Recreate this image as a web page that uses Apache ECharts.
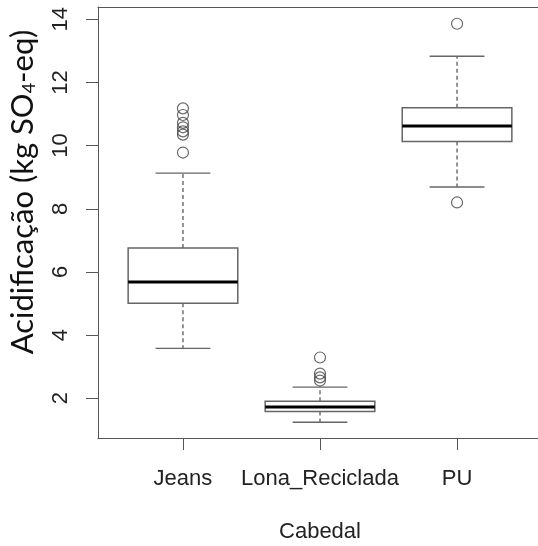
<!DOCTYPE html>
<html>
<head>
	<meta charset="utf-8">
	<title>Acidificação por cabedal</title>
	<script src="https://cdn.jsdelivr.net/npm/echarts@6/dist/echarts.min.js"></script>
	<style type="text/css">
		html, body { margin: 0; padding: 0; background: #fff; }
		#chart { width: 538px; height: 546px; }
	</style>
</head>
<body>
	<div id="chart"></div>
<script type="text/javascript">
	// categorias e estatisticas: [min, Q1, mediana, Q3, max]
	var categorias = ['Jeans', 'Lona_Reciclada', 'PU'];
	var jeans = [3.58, 5.01, 5.68, 6.76, 9.13];
	var lona = [1.24, 1.58, 1.72, 1.90, 2.35];
	var pu = [8.69, 10.13, 10.62, 11.20, 12.83];
	// outliers
	var outJeans = [9.78, 10.35, 10.45, 10.58, 10.72, 10.97, 11.18];
	var outLona = [2.56, 2.66, 2.78, 3.29];
	var outPu = [8.2, 13.86];
	var yTicks = [2, 4, 6, 8, 10, 12, 14];

	var caixas = [jeans, lona, pu].map(function (s, i) {
		return [i + 1].concat(s);
	});
	var pontos = [];
	[outJeans, outLona, outPu].forEach(function (arr, i) {
		arr.forEach(function (v) { pontos.push([i + 1, v]); });
	});

	var chart = echarts.init(document.getElementById('chart'));

	var cor = '#555';
	var option = {
		backgroundColor: '#fff',
		animation: false,
		// a caixa do R continua um pouco alem da borda direita (corte da imagem)
		grid: { left: 98, top: 7, width: 444, height: 431, outerBoundsMode: 'none', containLabel: false },
		graphic: [{
			type: 'text',
			x: 23, y: 192,
			rotation: Math.PI / 2,
			style: {
				text: '{t|Acidificação (kg SO}{s|4}{t|-eq)}',
				align: 'center', verticalAlign: 'middle',
				rich: {
					t: { fontFamily: 'Lato', fontSize: 31, fill: '#111' },
					s: { fontFamily: 'Lato', fontSize: 18, fill: '#111', verticalAlign: 'bottom', padding: [13, 0, 0, 0] }
				}
			}
		}],
		xAxis: [{
			type: 'value',
			min: 0.38, max: 3.62,
			name: 'Cabedal',
			nameLocation: 'middle',
			nameGap: 83,
			nameTextStyle: { fontFamily: 'Liberation Sans', fontSize: 22, color: '#222' },
			splitLine: { show: false },
			axisLine: { show: true, lineStyle: { color: cor } },
			axisTick: { show: true, length: 12, customValues: [1, 2, 3], lineStyle: { color: cor } },
			axisLabel: {
				customValues: [1, 2, 3],
				margin: 30,
				fontFamily: 'Liberation Sans', fontSize: 22, color: '#222',
				formatter: function (v) { return categorias[Math.round(v) - 1]; }
			}
		}, {
			type: 'value',
			position: 'top',
			min: 0.38, max: 3.62,
			splitLine: { show: false },
			axisLine: { show: true, lineStyle: { color: cor } },
			axisTick: { show: false },
			axisLabel: { show: false }
		}],
		yAxis: {
			type: 'value',
			min: 0.74, max: 14.39,
			splitLine: { show: false },
			axisLine: { show: true, lineStyle: { color: cor } },
			axisTick: { show: true, length: 12, customValues: yTicks, lineStyle: { color: cor } },
			axisLabel: {
				customValues: yTicks,
				rotate: 90,
				margin: 26,
				fontFamily: 'Liberation Sans', fontSize: 22, color: '#222'
			}
		},
		series: [{
			type: 'custom',
			data: caixas,
			encode: { x: 0, y: [1, 2, 3, 4, 5] },
			renderItem: function (params, api) {
				var x = api.value(0);
				var lo = api.value(1), q1 = api.value(2), med = api.value(3), q3 = api.value(4), hi = api.value(5);
				var a = api.coord([x - 0.4, q3]);
				var b = api.coord([x + 0.4, q1]);
				var c = api.coord([x, 0]);
				var yLo = api.coord([x, lo])[1], yHi = api.coord([x, hi])[1];
				var yMed = api.coord([x, med])[1];
				var sA = api.coord([x - 0.2, 0])[0], sB = api.coord([x + 0.2, 0])[0];
				var linha = { stroke: '#666', lineWidth: 1.4 };
				var tracejado = { stroke: '#666', lineWidth: 1.4, lineDash: [4, 3] };
				return {
					type: 'group',
					children: [
						{ type: 'line', shape: { x1: c[0], y1: a[1], x2: c[0], y2: yHi }, style: tracejado },
						{ type: 'line', shape: { x1: c[0], y1: b[1], x2: c[0], y2: yLo }, style: tracejado },
						{ type: 'line', shape: { x1: sA, y1: yHi, x2: sB, y2: yHi }, style: linha },
						{ type: 'line', shape: { x1: sA, y1: yLo, x2: sB, y2: yLo }, style: linha },
						{ type: 'rect', shape: { x: a[0], y: a[1], width: b[0] - a[0], height: b[1] - a[1] }, style: { fill: '#fff', stroke: '#666', lineWidth: 1.5 } },
						{ type: 'line', shape: { x1: a[0], y1: yMed, x2: b[0], y2: yMed }, style: { stroke: '#000', lineWidth: 3 } }
					]
				};
			}
		}, {
			type: 'scatter',
			data: pontos,
			symbol: 'circle',
			symbolSize: 11,
			itemStyle: { color: 'rgba(0,0,0,0)', borderColor: '#444', borderWidth: 1.2 }
		}]
	};
	chart.setOption(option);
</script>
</body>
</html>
